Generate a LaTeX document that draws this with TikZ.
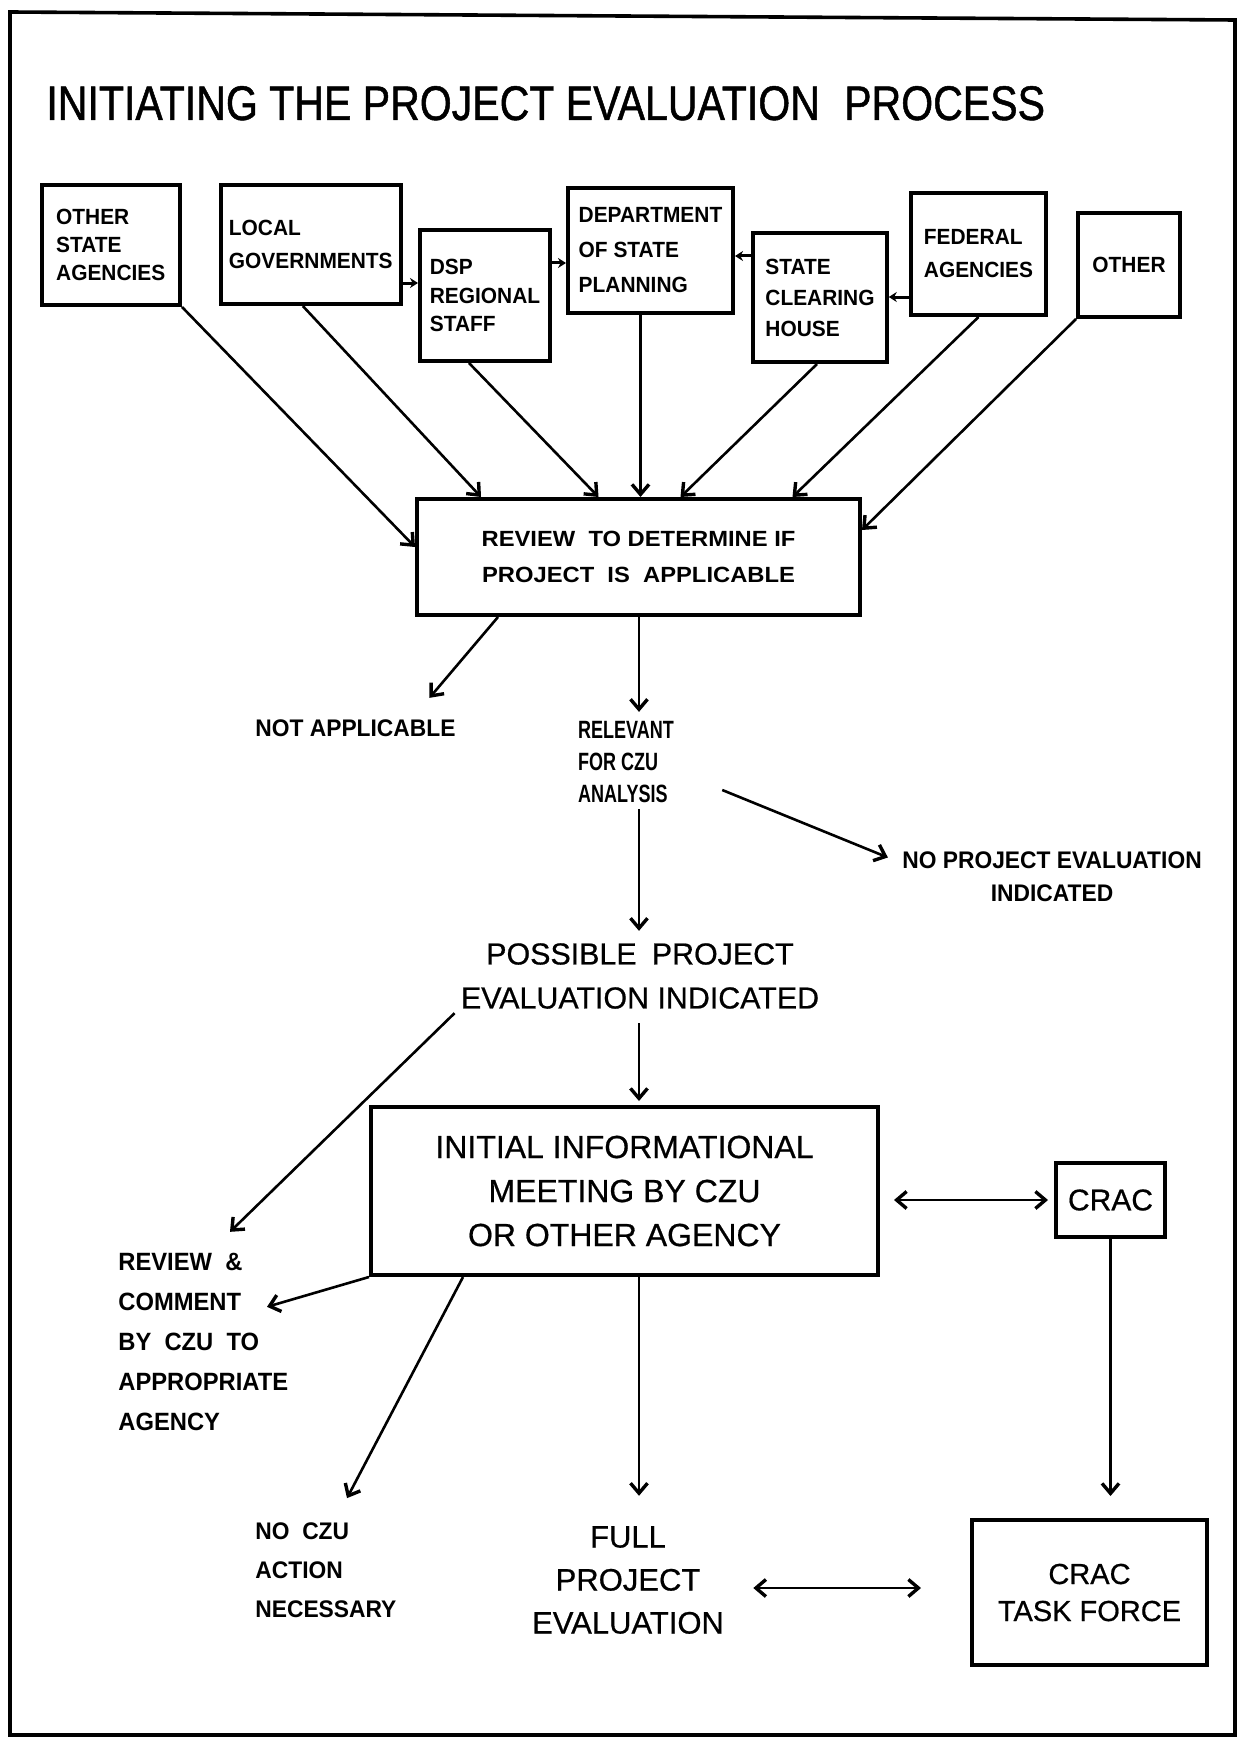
\documentclass[tikz,border=0pt]{standalone}
\usepackage{fontspec}
\setmainfont{Liberation Sans}[FakeBold=0.6]
\newfontfamily\titlefont{Liberation Sans}[FakeStretch=0.845,FakeBold=1]
\newfontfamily\narrowfont{Liberation Sans}[FakeStretch=0.72]
\newfontfamily\boxfont{Liberation Sans}[FakeStretch=0.95]
\newfontfamily\widefont{Liberation Sans}[FakeStretch=1.08]
\newcommand\topboxfont[1]{\boxfont\bfseries\fontsize{11}{#1}\selectfont}
\usetikzlibrary{arrows.meta,calc}

\begin{document}
\begin{tikzpicture}[x=0.5pt,y=-0.5pt,
  box/.style 2 args={draw, line width=2pt, minimum width=#1*0.5pt,
    minimum height=#2*0.5pt, inner sep=0pt, align=left},
  lbl/.style={inner sep=0pt},
  link/.style={line width=1.3pt},
  barb/.tip={Straight Barb[length=5pt,width=8.5pt,line width=1.7pt]},
  conn/.style={link, -barb},
  dbl/.style={link, barb-barb},
  small/.style={line width=1.5pt, -{Stealth[length=4pt,width=5pt]}}
]
\useasboundingbox (0,0) rectangle (1242,1739);

% outer frame
\draw[line width=1.8pt] (10,12) -- (1235,20) -- (1235,1735) -- (10,1735) -- cycle;

% heading
\node[lbl, anchor=base west, font=\titlefont\fontsize{24.3}{28}\selectfont] (title)
  at (46,120) {INITIATING THE PROJECT EVALUATION\enspace PROCESS};

% sources
\node[box={138.5}{120}, font=\topboxfont{14}]   (osa)  at (110.75,245) {OTHER\\STATE\\AGENCIES};
\node[box={180.4}{119}, font=\topboxfont{16.5}] (lg)   at (310.8,244.5) {LOCAL\\GOVERNMENTS};
\node[box={130}{131},   font=\topboxfont{14.25}] (dsp) at (485,295.5) {DSP\\REGIONAL\\STAFF};
\node[box={165}{125},   font=\topboxfont{17.5}] (dept) at (650.5,250.5) {DEPARTMENT\\OF STATE\\PLANNING};
\node[box={133.5}{129}, font=\topboxfont{15.5}] (sch)  at (820,297.5) {STATE\\CLEARING\\HOUSE};
\node[box={135}{122},   font=\topboxfont{16.5}] (fed)  at (978.5,254) {FEDERAL\\AGENCIES};
\node[box={102}{104},   font=\topboxfont{14}]   (oth)  at (1129,265) {OTHER};

% review step
\node[box={443}{116}, align=center, font=\widefont\bfseries\fontsize{11}{18}\selectfont] (rev)
  at (638.5,557) {REVIEW\ \ TO DETERMINE IF\\PROJECT\ \ IS\ \ APPLICABLE};

% outcomes of the review
\node[lbl, anchor=base west, font=\boxfont\bfseries\fontsize{12}{14}\selectfont] (na)
  at (255,736) {NOT APPLICABLE};
\node[lbl, align=left, font=\narrowfont\bfseries\fontsize{12.5}{16}\selectfont] (rel)
  at (626,762) {RELEVANT\\FOR CZU\\ANALYSIS};
\node[lbl, align=center, font=\boxfont\bfseries\fontsize{12}{16.5}\selectfont] (nope)
  at (1052,876.5) {NO PROJECT EVALUATION\\INDICATED};
\node[lbl, align=center, font=\fontsize{15.2}{22}\selectfont] (poss)
  at (640,976) {POSSIBLE\enspace PROJECT\\EVALUATION INDICATED};

% meeting and follow-up
\node[box={507}{168}, align=center, font=\fontsize{16}{22}\selectfont] (init)
  at (624.5,1191) {INITIAL INFORMATIONAL\\MEETING BY CZU\\OR OTHER AGENCY};
\node[box={109}{74}, font=\fontsize{15}{18}\selectfont] (crac) at (1110.5,1200) {CRAC};
\node[box={235}{145}, align=center, font=\fontsize{14.5}{18.5}\selectfont] (task)
  at (1089.5,1592.5) {CRAC\\TASK FORCE};
\node[lbl, align=center, font=\fontsize{15.5}{21.5}\selectfont] (full)
  at (628,1580) {FULL\\PROJECT\\EVALUATION};
\node[lbl, anchor=west, align=left, font=\boxfont\bfseries\fontsize{12.5}{20}\selectfont] (rc)
  at (118,1342) {REVIEW\ \ \&\\COMMENT\\BY\ \ CZU\ \ TO\\APPROPRIATE\\AGENCY};
\node[lbl, anchor=west, align=left, font=\boxfont\bfseries\fontsize{12}{19.5}\selectfont] (nocz)
  at (255,1570) {NO\ \ CZU\\ACTION\\NECESSARY};

\coordinate (col) at (639,0);

% sources into the review
\draw[conn] (osa.south east) -- ([yshift=5pt]rev.west);
\draw[conn] ([xshift=-4pt]lg.south) -- ([xshift=33pt]rev.north west);
\draw[conn] ([xshift=-8pt]dsp.south) -- ([xshift=-20pt]rev.north);
\draw[conn] ([xshift=-5pt]dept.south) -- ([xshift=-5pt]dept.south |- rev.north);
\draw[conn] ([xshift=-1.5pt]sch.south) -- ([xshift=21pt]rev.north);
\draw[conn] (fed.south) -- ([xshift=77pt]rev.north);
\draw[conn] (oth.south west) -- ([yshift=13.5pt]rev.east);

% links between the sources
\draw[small] ([yshift=-19.25pt]lg.east) -- ([yshift=-19.25pt]lg.east -| dsp.west);
\draw[small] ([yshift=16.25pt]dsp.east) -- ([yshift=16.25pt]dsp.east -| dept.west);
\draw[small] ([yshift=20.75pt]sch.west) -- ([yshift=20.75pt]sch.west -| dept.east);
\draw[small] ([yshift=-21.5pt]fed.west) -- ([yshift=-21.5pt]fed.west -| sch.east);

% review outcomes
\draw[conn] ([xshift=41.5pt]rev.south west) -- ([xshift=37pt,yshift=10.5pt]na.north);
\draw[conn, shorten >=4.5pt] (col |- rev.south) -- (col |- rel.north);
\draw[conn] ([xshift=24pt,yshift=-14pt]rel.east) -- ([xshift=-7pt,yshift=9.5pt]nope.west);
\draw[conn, shorten <=3pt, shorten >=6pt] (col |- rel.south) -- (col |- poss.north);
\draw[conn] ([xshift=-3pt,yshift=-2pt]poss.south west) -- ([xshift=56pt,yshift=10.5pt]rc.north west);
\draw[conn, shorten <=7pt, shorten >=2pt] (col |- poss.south) -- (col |- init.north);

% meeting outcomes
\draw[conn] (init.south west) -- ([xshift=74.5pt,yshift=-27pt]rc.north west);
\draw[conn] ([xshift=-80.75pt]init.south) -- ([xshift=46pt,yshift=12pt]nocz.north west);
\draw[conn, shorten >=15pt] (col |- init.south) -- (col |- full.north);
\draw[dbl, shorten <=7pt, shorten >=3pt] (init.east |- crac.west) -- (crac.west);
\draw[conn, shorten >=11pt] (crac.south) -- (crac.south |- task.north);
\draw[dbl, shorten <=14.5pt, shorten >=24.5pt] ([yshift=-4pt]full.east) -- ([yshift=-4pt]full.east -| task.west);
\end{tikzpicture}
\end{document}
